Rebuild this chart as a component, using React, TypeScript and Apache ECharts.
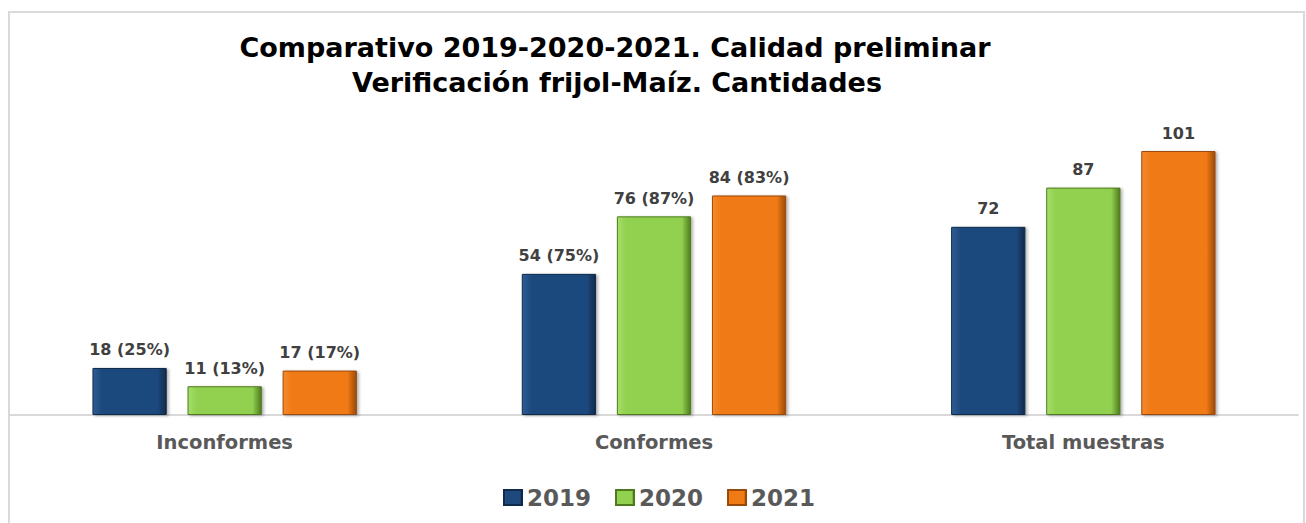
import React, { useEffect, useRef } from "react";
import * as echarts from "echarts";

const categories = ["Inconformes", "Conformes", "Total muestras"];
const seriesNames = ["2019", "2020", "2021"];
const values2019 = [18, 54, 72];
const values2020 = [11, 76, 87];
const values2021 = [17, 84, 101];
const labels2019 = ["18 (25%)", "54 (75%)", "72"];
const labels2020 = ["11 (13%)", "76 (87%)", "87"];
const labels2021 = ["17 (17%)", "84 (83%)", "101"];
const titleLine1 = "Comparativo 2019-2020-2021. Calidad preliminar";
const titleLine2 = "Verificación frijol-Maíz. Cantidades";
const baseColors = ["#1F497D", "#92D050", "#F07A14"];
const lightColors = ["#2E5C94", "#A6DE6A", "#F58A2E"];
const darkColors = ["#0F2A4A", "#4E7A1E", "#9A4A08"];

function grad(i: number) {
  return new echarts.graphic.LinearGradient(0, 0, 1, 0, [
    { offset: 0, color: lightColors[i] },
    { offset: 0.12, color: baseColors[i] },
    { offset: 0.88, color: baseColors[i] },
    { offset: 1, color: darkColors[i] },
  ]);
}

const titleStyle = {
  fontFamily: "DejaVu Sans",
  fontWeight: "bold",
  fontSize: 27,
  lineHeight: 30,
  color: "#000000",
};

export default function App() {
  const ref = useRef<HTMLDivElement>(null);
  useEffect(() => {
    const chart = echarts.init(ref.current!, undefined, { renderer: "svg" });
    const data = [values2019, values2020, values2021];
    const labels = [labels2019, labels2020, labels2021];
    chart.setOption({
      animation: false,
      backgroundColor: "#ffffff",
      title: [
        { text: titleLine1, left: 615, textAlign: "center", top: 32, padding: 0, textStyle: titleStyle },
        { text: titleLine2, left: 617, textAlign: "center", top: 67, padding: 0, textStyle: titleStyle },
      ],
      graphic: [
        {
          type: "rect",
          shape: { x: 9, y: 12, width: 1295, height: 520 },
          style: { fill: "none", stroke: "#D9D9D9", lineWidth: 2 },
          silent: true,
        },
      ],
      legend: {
        data: seriesNames,
        left: 498,
        top: 481,
        icon: "rect",
        itemWidth: 18,
        itemHeight: 15,
        itemGap: 24,
        textStyle: {
          fontFamily: "DejaVu Sans",
          fontWeight: "bold",
          fontSize: 23,
          color: "#595959",
        },
      },
      grid: { left: 10, right: 8, top: 127.5, bottom: 108, containLabel: false },
      xAxis: {
        type: "category",
        data: categories,
        axisLine: { lineStyle: { color: "#D9D9D9", width: 2 } },
        axisTick: { show: false },
        axisLabel: {
          margin: 17,
          fontFamily: "DejaVu Sans",
          fontWeight: "bold",
          fontSize: 19.5,
          color: "#595959",
        },
      },
      yAxis: {
        type: "value",
        min: 0,
        max: 110,
        show: false,
        splitLine: { show: false },
      },
      series: seriesNames.map((name, i) => ({
        name,
        type: "bar",
        data: data[i],
        barWidth: "17.3%",
        barGap: "28%",
        itemStyle: {
          color: grad(i),
          borderColor: darkColors[i],
          borderWidth: 1,
          shadowColor: "rgba(0,0,0,0.3)",
          shadowBlur: 3,
          shadowOffsetX: 2,
          shadowOffsetY: 1,
        },
        label: {
          show: true,
          position: "top",
          distance: 10,
          formatter: (p: any) => labels[i][p.dataIndex],
          fontFamily: "DejaVu Sans",
          fontWeight: "bold",
          fontSize: 16,
          color: "#404040",
        },
      })),
    });
    return () => chart.dispose();
  }, []);
  return (
    <div
      ref={ref}
      style={{ position: "absolute", left: 0, top: 0, width: 1306, height: 523 }}
    />
  );
}
